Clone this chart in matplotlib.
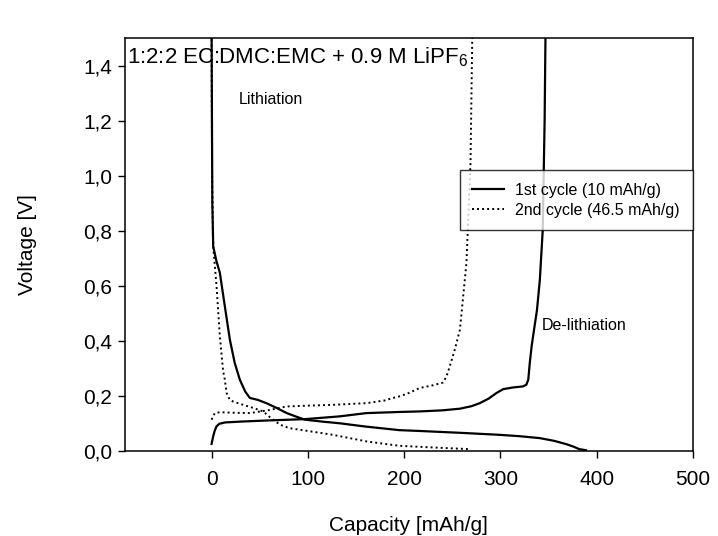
import matplotlib.pyplot as plt
import numpy as np

plt.rcParams['font.family'] = ['Liberation Sans', 'DejaVu Sans']
plt.rcParams['mathtext.fontset'] = 'custom'
plt.rcParams['mathtext.rm'] = 'Liberation Sans'
plt.rcParams['mathtext.it'] = 'Liberation Sans'

# 1st cycle, lithiation (discharge)
c1_li_cap = [0.0, 0.4, 0.8, 1.7, 5, 8.6, 14, 19, 24, 29.4, 35, 39.8, 48, 57, 68, 78, 88, 97,
             115, 133, 160, 195, 216, 260, 299, 320, 341, 356, 368.6, 376, 382, 389]
c1_li_v = [1.55, 1.2, 0.9, 0.743, 0.69, 0.647, 0.52, 0.404, 0.32, 0.258, 0.215, 0.192, 0.185,
           0.173, 0.155, 0.137, 0.124, 0.113, 0.106, 0.100, 0.088, 0.075, 0.072, 0.065, 0.058,
           0.053, 0.046, 0.036, 0.024, 0.015, 0.006, 0.002]

# 1st cycle, de-lithiation (charge)
c1_de_cap = [0.0, 1.5, 3, 5, 8, 14, 30, 57, 97, 133, 161, 195, 216, 240, 258, 270, 278.6, 288,
             296, 303, 313, 323.6, 327, 329, 330.6, 332.5, 335, 338, 341, 344, 346, 347]
c1_de_v = [0.025, 0.05, 0.07, 0.088, 0.098, 0.103, 0.106, 0.110, 0.115, 0.125, 0.137, 0.141,
           0.143, 0.147, 0.153, 0.162, 0.173, 0.19, 0.21, 0.224, 0.23, 0.234, 0.24, 0.258,
           0.32, 0.38, 0.44, 0.51, 0.62, 0.80, 1.2, 1.55]

# 2nd cycle, lithiation (discharge)
c2_li_cap = [0.0, 0.5, 1.7, 5.2, 8.6, 12, 13.8, 15.6, 19, 22.4, 32.8, 43, 53.6, 62, 71, 81,
             100, 126, 145, 161, 180, 195.5, 230, 255, 268]
c2_li_v = [1.55, 1.0, 0.743, 0.597, 0.416, 0.29, 0.258, 0.21, 0.185, 0.179, 0.167, 0.156,
           0.143, 0.118, 0.095, 0.082, 0.072, 0.058, 0.045, 0.034, 0.025, 0.018, 0.012, 0.008, 0.006]

# 2nd cycle, de-lithiation (charge)
c2_de_cap = [0.0, 3.4, 8.6, 25, 40, 60, 78, 100, 126, 161, 180, 188.6, 195.5, 205, 216,
             230, 240.5, 244, 247.5, 252.6, 258, 264.8, 269, 271]
c2_de_v = [0.113, 0.137, 0.14, 0.138, 0.137, 0.148, 0.161, 0.164, 0.167, 0.173, 0.183, 0.192,
           0.198, 0.21, 0.228, 0.238, 0.248, 0.27, 0.307, 0.367, 0.44, 0.684, 1.047, 1.55]

yticks = np.arange(0, 1.41, 0.2)
xticks = [0, 100, 200, 300, 400, 500]

fig = plt.figure(figsize=(7.18, 5.36), dpi=100)
ax = fig.add_axes([0.174, 0.159, 0.791, 0.770])

dot = (0, (1, 1.6))
l1, = ax.plot(c1_li_cap, c1_li_v, color='black', lw=1.6)
ax.plot(c1_de_cap, c1_de_v, color='black', lw=1.6)
l2, = ax.plot(c2_li_cap, c2_li_v, color='black', lw=1.4, linestyle=dot)
ax.plot(c2_de_cap, c2_de_v, color='black', lw=1.4, linestyle=dot)

ax.set_xlim(-90, 500)
ax.set_ylim(0, 1.5)
ax.set_xticks(xticks)
ax.set_yticks(yticks)
ax.set_yticklabels([f'{v:.1f}'.replace('.', ',') for v in yticks])
ax.tick_params(direction='out', length=5, width=1, labelsize=15, top=False, right=False)
ax.tick_params(axis='x', pad=9)
ax.tick_params(axis='y', pad=4)
for s in ax.spines.values():
    s.set_linewidth(1.1)

ax.set_xlabel('Capacity [mAh/g]', fontsize=15, labelpad=19)
ax.set_ylabel('Voltage [V]', fontsize=15, labelpad=33)

ax.text(0.004, 0.982, '1:2:2 EC:DMC:EMC + 0.9 M LiPF$_6$', transform=ax.transAxes,
        fontsize=16, ha='left', va='top')
ax.text(28, 1.276, 'Lithiation', fontsize=11.5, ha='left', va='center')
ax.text(343, 0.455, 'De-lithiation', fontsize=11.5, ha='left', va='center')

leg = ax.legend([l1, l2], ['1st cycle (10 mAh/g)', '2nd cycle (46.5 mAh/g)'],
                loc='upper right', bbox_to_anchor=(1.0, 0.68), borderaxespad=0,
                fontsize=11.5, frameon=True, fancybox=False, edgecolor='black',
                handlelength=2.0, labelspacing=0.3, borderpad=0.8, handletextpad=0.7)
leg.get_frame().set_linewidth(1.0)

fig.savefig('out.png', dpi=100)
